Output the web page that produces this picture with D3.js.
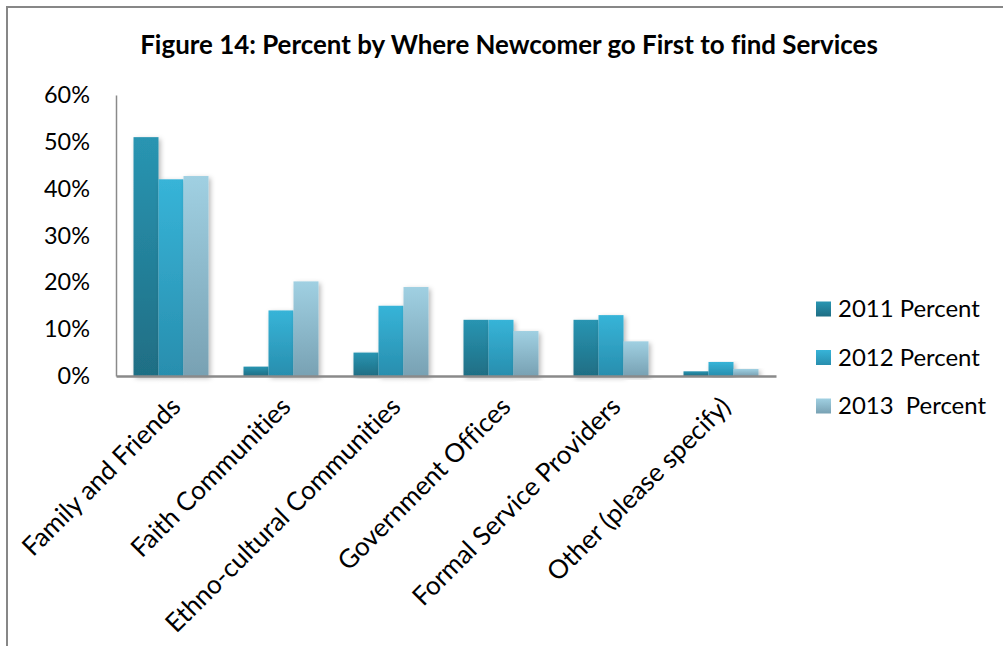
<!DOCTYPE html>
<html>
<head>
<meta charset="utf-8">
<script src="https://cdn.jsdelivr.net/npm/d3@7"></script>
<style>
  html, body { margin: 0; padding: 0; background: #fff; }
  svg { display: block; }
  text { font-family: Lato, "Noto Sans", sans-serif; fill: #000; font-variant-ligatures: none; }
</style>
</head>
<body>
<svg id="chart" width="1003" height="646"></svg>
<script>
// Where newcomers go first to find services, share of respondents by survey year
const categories = [
  "Family and Friends",
  "Faith Communities",
  "Ethno-cultural Communities",
  "Government Offices",
  "Formal Service Providers",
  "Other (please specify)"
];
const seriesNames = ["2011 Percent", "2012 Percent", "2013  Percent"];
const values2011 = [0.51, 0.02, 0.05, 0.12, 0.12, 0.01];
const values2012 = [0.42, 0.14, 0.15, 0.12, 0.13, 0.03];
const values2013 = [0.427, 0.202, 0.19, 0.096, 0.074, 0.015];
const yTicks = [0, 0.1, 0.2, 0.3, 0.4, 0.5, 0.6];
const titleText = "Figure 14: Percent by Where Newcomer go First to find Services";

const seriesValues = [values2011, values2012, values2013];
const rows = categories.map((c, i) => ({
  category: c,
  values: seriesNames.map((s, k) => ({ series: s, k, value: seriesValues[k][i] }))
}));

// gradient stops (top, bottom) for each series
const fills = [
  ["#2995b2", "#1f6e84"],
  ["#37b4d8", "#288eae"],
  ["#a0d0e2", "#78a1b3"]
];

const svg = d3.select("#chart");
const defs = svg.append("defs");

fills.forEach((f, k) => {
  const g = defs.append("linearGradient")
    .attr("id", "grad" + k)
    .attr("x1", 0).attr("y1", 0).attr("x2", 0).attr("y2", 1);
  g.append("stop").attr("offset", "0%").attr("stop-color", f[0]);
  g.append("stop").attr("offset", "100%").attr("stop-color", f[1]);
});

const shadow = defs.append("filter").attr("id", "barShadow")
  .attr("x", "-20%").attr("y", "-5%").attr("width", "150%").attr("height", "115%");
shadow.append("feDropShadow")
  .attr("dx", 2).attr("dy", 2).attr("stdDeviation", 2.5)
  .attr("flood-color", "#000").attr("flood-opacity", 0.28);

// fit a font size so that a string spans the wanted width
function fitSize(str, width, weight) {
  const t = svg.append("text").attr("font-size", 100)
    .attr("font-weight", weight || "normal").text(str);
  const w = t.node().getComputedTextLength();
  t.remove();
  return 100 * width / w;
}

// chart frame
svg.append("rect")
  .attr("x", 7).attr("y", 7)
  .attr("width", 1010).attr("height", 660)
  .attr("fill", "none").attr("stroke", "#878787").attr("stroke-width", 2);

// title
svg.append("text")
  .attr("x", 509).attr("y", 54)
  .attr("text-anchor", "middle")
  .attr("font-weight", "bold")
  .attr("font-size", fitSize(titleText, 738, "bold"))
  .text(titleText);

const plot = { left: 116, right: 776, top: 95, bottom: 376 };

const y = d3.scaleLinear().domain([0, 0.6]).range([plot.bottom, plot.top]);
const x0 = d3.scaleBand().domain(categories)
  .range([plot.left, plot.right])
  .paddingInner(35 / 110).paddingOuter(35 / 220);
const x1 = d3.scaleBand().domain(seriesNames).range([0, x0.bandwidth()]);

// y axis
const tickSize = fitSize("60%", 46);
const yAxis = svg.append("g")
  .attr("transform", `translate(${plot.left},0)`)
  .call(d3.axisLeft(y).tickValues(yTicks).tickFormat(d3.format(".0%")).tickSize(0).tickPadding(26));
yAxis.select(".domain").attr("stroke", "#8a8a8a").attr("stroke-width", 1.5);
yAxis.selectAll("text")
  .attr("font-size", tickSize)
  .attr("font-family", "Lato, 'Noto Sans', sans-serif")
  .attr("fill", "#000");

// bars
const groups = svg.append("g").selectAll("g")
  .data(rows).join("g")
  .attr("transform", d => `translate(${x0(d.category)},0)`);

groups.selectAll("rect")
  .data(d => d.values).join("rect")
  .attr("x", d => x1(d.series))
  .attr("y", d => y(d.value))
  .attr("width", x1.bandwidth())
  .attr("height", d => y(0) - y(d.value))
  .attr("fill", d => `url(#grad${d.k})`)
  .attr("filter", "url(#barShadow)");

// x axis
const xAxis = svg.append("g")
  .attr("transform", `translate(0,${plot.bottom})`)
  .call(d3.axisBottom(x0).tickSize(0).tickFormat(""));
xAxis.select(".domain").attr("stroke", "#8a8a8a").attr("stroke-width", 2.5);

// rotated category labels
const catSize = fitSize(categories[0], 211);
svg.append("g").selectAll("text")
  .data(categories).join("text")
  .attr("transform", d => `translate(${x0(d) + x0.bandwidth() / 2 - 2},${plot.bottom + 19}) rotate(-45)`)
  .attr("text-anchor", "end")
  .attr("dy", "0.72em")
  .attr("font-size", catSize)
  .text(d => d);

// legend
const legSize = fitSize("2011 Percent", 142);
const legend = svg.append("g").selectAll("g")
  .data(seriesNames).join("g")
  .attr("transform", (d, i) => `translate(816,${309 + i * 48.5})`);
legend.append("rect")
  .attr("x", 0).attr("y", -7.5)
  .attr("width", 15).attr("height", 15)
  .attr("fill", (d, i) => `url(#grad${i})`);
legend.append("text")
  .attr("x", 22).attr("y", 0)
  .attr("dy", "0.35em")
  .attr("font-size", legSize)
  .attr("xml:space", "preserve")
  .style("white-space", "pre")
  .text(d => d);
</script>
</body>
</html>
